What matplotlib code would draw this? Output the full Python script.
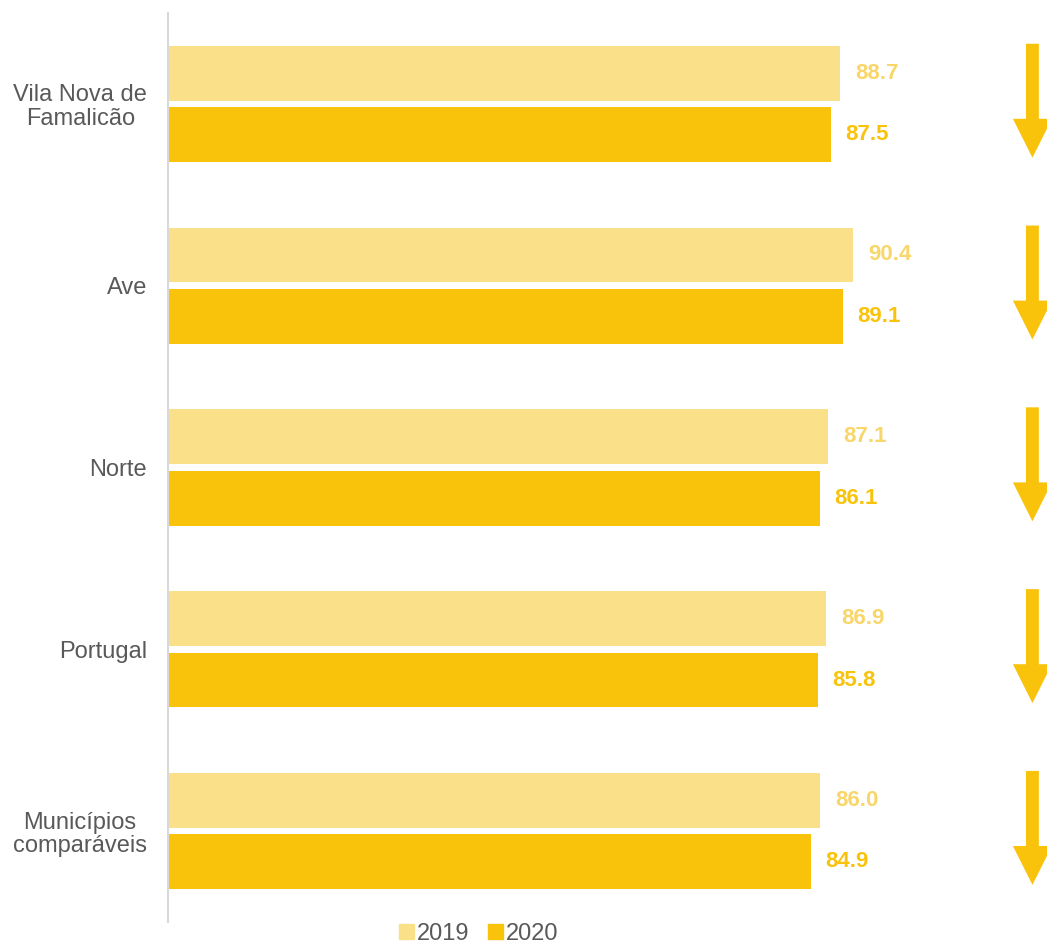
import matplotlib
matplotlib.use("Agg")
import matplotlib.pyplot as plt
from matplotlib.patches import FancyArrow, Patch
import numpy as np

plt.rcParams['font.family'] = ['Liberation Sans', 'DejaVu Sans']

categories = ["Vila Nova de\nFamalicão", "Ave", "Norte", "Portugal", "Municípios\ncomparáveis"]
values_2019 = [88.7, 90.4, 87.1, 86.9, 86.0]
values_2020 = [87.5, 89.1, 86.1, 85.8, 84.9]
series_labels = ["2019", "2020"]

c19_bar = "#F9E089"
c19_txt = "#F8D66A"
c20_bar = "#F9C30C"
c20_txt = "#F9C30C"

W, H = 1047, 944
fig = plt.figure(figsize=(W / 100, H / 100), dpi=100)
ax = fig.add_axes([168 / W, 1 - 922 / H, (W - 168) / W, (922 - 13) / H])

y = np.arange(len(categories))
off = 0.169
bh = 0.302
ax.barh(y - off, values_2019, height=bh, color=c19_bar)
ax.barh(y + off, values_2020, height=bh, color=c20_bar)

xmax = (W - 168) / 7.576
ax.set_xlim(0, xmax)
ax.set_ylim(4.5, -0.5)

for i in range(len(categories)):
    ax.annotate(f"{values_2019[i]:.1f}", (values_2019[i], y[i] - off), xytext=(11, 0),
                textcoords="offset points", va="center", ha="left",
                fontsize=16, fontweight="bold", color=c19_txt)
    ax.annotate(f"{values_2020[i]:.1f}", (values_2020[i], y[i] + off), xytext=(10, 0),
                textcoords="offset points", va="center", ha="left",
                fontsize=16, fontweight="bold", color=c20_txt)
    # downward arrow since 2020 < 2019
    if values_2020[i] < values_2019[i]:
        ax.add_patch(FancyArrow(114.1, y[i] - 0.331, 0, 0.627, width=1.7,
                                head_width=5.15, head_length=0.214,
                                length_includes_head=True, color=c20_bar,
                                clip_on=False, lw=0))

ax.set_yticks(y)
ax.set_yticklabels(categories, fontsize=17, color="#595959", multialignment="center",
                   linespacing=1.1)
ax.tick_params(axis="y", length=0, pad=15)
ax.set_xticks([])
for s in ["top", "right", "bottom"]:
    ax.spines[s].set_visible(False)
ax.spines["left"].set_color("#D9D9D9")
ax.spines["left"].set_linewidth(1.5)

handles = [Patch(color=c19_bar), Patch(color=c20_bar)]
leg = fig.legend(handles, series_labels, loc="center", bbox_to_anchor=(479 / W, 1 - 934 / H),
                 ncol=2, frameon=False, fontsize=17, handlelength=0.6, handleheight=0.6,
                 handletextpad=0.15, columnspacing=0.8, borderpad=0)
for t in leg.get_texts():
    t.set_color("#595959")

fig.savefig("out.png", dpi=100)
